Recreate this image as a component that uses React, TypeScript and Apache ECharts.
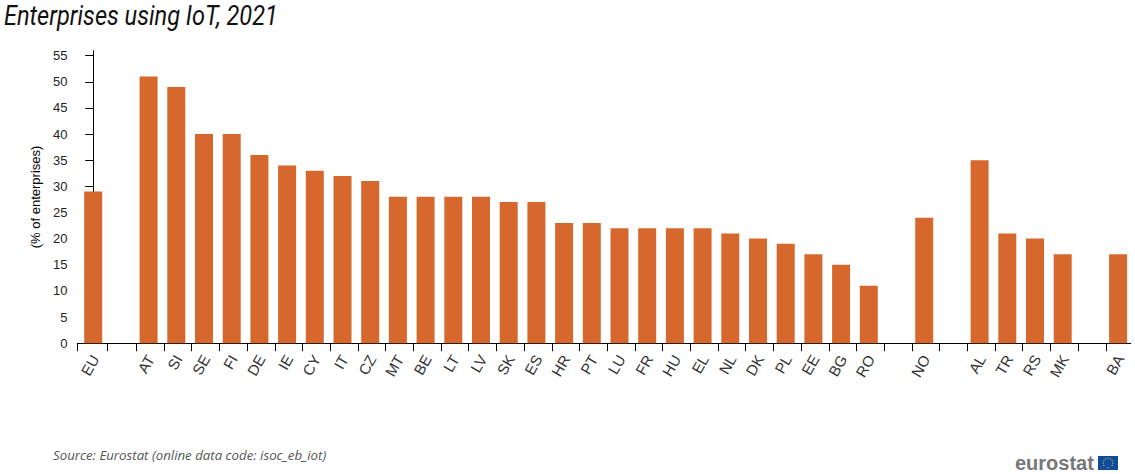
import React, { useEffect, useRef } from "react";
import * as echarts from "echarts";

const codes = ["EU","","AT","SI","SE","FI","DE","IE","CY","IT","CZ","MT","BE","LT","LV","SK","ES","HR","PT","LU","FR","HU","EL","NL","DK","PL","EE","BG","RO","","NO","","AL","TR","RS","MK","","BA"];
const values: (number | null)[] = [29,null,51,49,40,40,36,34,33,32,31,28,28,28,28,27,27,23,23,22,22,22,22,21,20,19,17,15,11,null,24,null,35,21,20,17,null,17];
const yTicks = [0,5,10,15,20,25,30,35,40,45,50,55];
const xTicks = [-0.567,0.516,1.556,2.556,3.556,4.556,5.556,6.556,7.556,8.556,9.556,10.556,11.556,12.556,13.556,14.556,15.556,16.556,17.556,18.556,19.556,20.556,21.556,22.556,23.556,24.556,25.556,26.556,27.556,28.556,29.556,30.556,31.556,32.556,33.556,34.556,35.556,36.556,37.46];
const title = "Enterprises using IoT, 2021";
const source = "Source: Eurostat (online data code: isoc_eb_iot)";
const yName = "(% of enterprises)";
const starAngles = [0,30,60,90,120,150,180,210,240,270,300,330];

export default function App() {
  const ref = useRef<HTMLDivElement>(null);
  useEffect(() => {
    const chart = echarts.init(ref.current!, undefined, { renderer: "svg" });
    const labelValues = codes.map((c, i) => (c ? i + 0.07 : -1)).filter((i) => i >= 0);
    chart.setOption({
      animation: false,
      textStyle: { fontFamily: "'Liberation Sans', Arial, sans-serif" },
      grid: { left: 77.5, top: 50.7, width: 1053.2, height: 292.5, containLabel: false },
      xAxis: {
        type: "value",
        min: -0.567,
        max: 37.455,
        splitLine: { show: false },
        axisLine: { show: true, onZero: false, lineStyle: { color: "#000", width: 1 } },
        axisTick: { show: true, customValues: xTicks, length: 8, lineStyle: { color: "#000", width: 1 } },
        axisLabel: {
          customValues: labelValues,
          rotate: 60,
          margin: 13,
          fontSize: 15,
          color: "#333",
          formatter: (v: number) => codes[Math.round(v)] || "",
        },
      },
      yAxis: {
        type: "value",
        min: 0,
        max: 55.94,
        name: yName,
        nameLocation: "middle",
        nameGap: 36,
        nameRotate: 90,
        nameTextStyle: { fontSize: 13, color: "#000" },
        splitLine: { show: false },
        axisLine: { show: true, lineStyle: { color: "#000", width: 1 } },
        axisTick: { show: true, customValues: yTicks, length: 8, lineStyle: { color: "#000", width: 1 } },
        axisLabel: { customValues: yTicks, margin: 10, fontSize: 13, color: "#222" },
      },
      series: [
        {
          type: "bar",
          barWidth: 18,
          itemStyle: { color: "#D7682D" },
          data: values.map((v, i) => [i, v]).filter((d) => d[1] !== null),
        },
      ],
      graphic: [
        {
          type: "text",
          x: 4,
          y: 1,
          scaleX: 0.842,
          style: {
            text: title,
            font: "italic 400 28px Roboto, sans-serif",
            fill: "#111",
          },
        },
        {
          type: "text",
          x: 53,
          y: 448,
          style: {
            text: source,
            font: "italic 13.25px 'Open Sans', sans-serif",
            fill: "#555",
          },
        },
        {
          type: "text",
          x: 1015,
          y: 453,
          style: {
            text: "eurostat",
            font: "bold 20px 'Liberation Sans', sans-serif",
            fill: "#77787b",
          },
        },
        { type: "rect", shape: { x: 1098, y: 456, width: 20, height: 14 }, style: { fill: "#0F4C9C" } },
        ...starAngles.map((a) => ({
          type: "circle",
          shape: {
            cx: 1108 + 4.8 * Math.cos((a * Math.PI) / 180),
            cy: 463 + 4.8 * Math.sin((a * Math.PI) / 180),
            r: 0.55,
          },
          style: { fill: "#F2D43A" },
        })),
      ],
    });
    return () => chart.dispose();
  }, []);
  return <div ref={ref} style={{ width: 1135, height: 474, position: "absolute", left: 0, top: 0 }} />;
}
